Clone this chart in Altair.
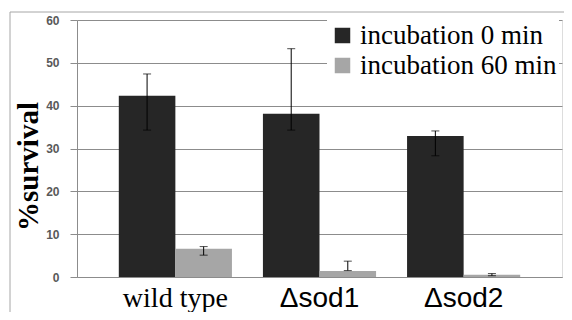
import altair as alt
import pandas as pd

strains = ["wild type", "Δsod1", "Δsod2"]
series = ["incubation 0 min", "incubation 60 min"]
surv_0 = [42.3, 38.1, 32.9]
err_lo_0 = [34.3, 34.3, 28.3]
err_hi_0 = [47.4, 53.3, 34.1]
surv_60 = [6.6, 1.4, 0.5]
err_lo_60 = [5.1, 1.5, 0.3]
err_hi_60 = [7.1, 3.7, 0.8]

rows = []
for i, s in enumerate(strains):
    rows.append({"strain": s, "series": series[0], "v": surv_0[i], "lo": err_lo_0[i], "hi": err_hi_0[i]})
    rows.append({"strain": s, "series": series[1], "v": surv_60[i], "lo": err_lo_60[i], "hi": err_hi_60[i]})
df = pd.DataFrame(rows)

grid = "#8c8c8c"

x = alt.X("strain:N", sort=strains, title=None,
          scale=alt.Scale(paddingInner=0.215, paddingOuter=0.29),
          axis=alt.Axis(labelAngle=0, ticks=False, domainColor=grid, labelColor="black",
                        labelFontSize=28, labelPadding=7,
                        labelFont={"condition": {"test": "datum.value == 'wild type'", "value": "Liberation Serif"},
                                   "value": "Liberation Sans"}))
xo = alt.XOffset("series:N", sort=series, scale=alt.Scale(paddingInner=0, paddingOuter=0))
y_scale = alt.Scale(domain=[0, 60], nice=False)

base = alt.Chart(df)

bars = base.mark_bar().encode(
    x=x, xOffset=xo,
    y=alt.Y("v:Q", scale=y_scale, title="%survival",
            axis=alt.Axis(values=[0, 10, 20, 30, 40, 50, 60], gridColor=grid, domainColor=grid,
                          tickColor=grid, tickSize=7, labelPadding=11, labelFontSize=12,
                          labelFont="Liberation Sans", labelFontWeight="bold", labelColor="#595959",
                          titleFont="Liberation Serif", titleFontSize=29, titleFontWeight="bold",
                          titleColor="black", titleAngle=270, titleBaseline="alphabetic",
                          titleAlign="center", titleX=-40, titleY=146)),
    color=alt.Color("series:N", sort=series,
                    scale=alt.Scale(domain=series, range=["#262626", "#a6a6a6"]),
                    legend=alt.Legend(title=None, orient="none", legendX=250, legendY=0,
                                      fillColor="white", padding=2, symbolType="square",
                                      symbolSize=240, symbolStrokeWidth=0, labelFont="Liberation Serif",
                                      labelFontSize=27, labelColor="black", labelOffset=4,
                                      rowPadding=2, labelLimit=400)),
)

rule = base.mark_rule(color="black", strokeWidth=1).encode(
    x=x, xOffset=xo, y=alt.Y("lo:Q", scale=y_scale), y2="hi:Q")
cap_lo = base.mark_tick(color="black", thickness=1, size=8, orient="horizontal").encode(
    x=x, xOffset=xo, y=alt.Y("lo:Q", scale=y_scale))
cap_hi = base.mark_tick(color="black", thickness=1, size=8, orient="horizontal").encode(
    x=x, xOffset=xo, y=alt.Y("hi:Q", scale=y_scale))

frame = alt.Chart(pd.DataFrame({"a": [0]})).mark_rect(fill=None, stroke="#a6a6a6", strokeWidth=1).encode(
    x=alt.value(-67), x2=alt.value(620), y=alt.value(-8), y2=alt.value(400))

chart = alt.layer(frame, bars, rule, cap_lo, cap_hi).properties(
    width=485, height=257,
    autosize=alt.AutoSizeParams(type="none"),
    padding={"left": 69, "top": 12, "right": 2, "bottom": 35},
).configure_view(stroke=None).configure(background="white")

chart.save("out.html", embed_options={"renderer": "svg", "actions": False})
